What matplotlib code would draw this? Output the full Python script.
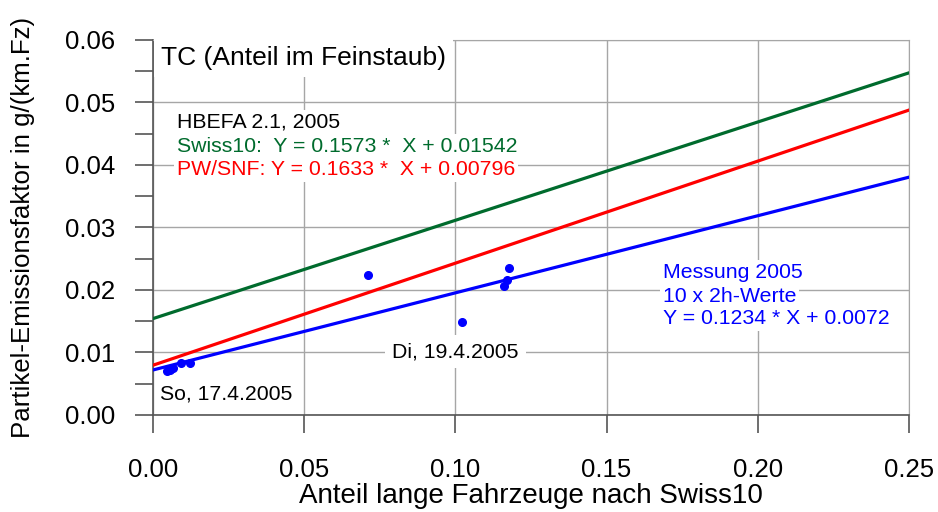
import matplotlib.pyplot as plt
import numpy as np
from matplotlib.ticker import MultipleLocator

plt.rcParams['font.family'] = ['Liberation Sans', 'DejaVu Sans']

# Messwerte 2005 (10 x 2h-Werte)
anteil_lang = [0.0046, 0.0056, 0.0066, 0.0093, 0.0122, 0.0711, 0.1022, 0.1161, 0.1170, 0.1177]
emission = [0.0070, 0.0072, 0.0075, 0.0083, 0.0083, 0.0224, 0.0149, 0.0206, 0.0216, 0.0235]

# Regressionsgeraden: (Steigung, Achsenabschnitt)
swiss10 = (0.1573, 0.01542)
pw_snf = (0.1633, 0.00796)
messung = (0.1234, 0.0072)

green = '#006b2d'
grid_col = '#a6a6a6'

fig = plt.figure(figsize=(9.38, 5.12), dpi=100)
ax = fig.add_axes([0.1631, 0.1895, 0.8060, 0.7324])

x = np.array([0.0, 0.25])
ax.plot(x, swiss10[0] * x + swiss10[1], color=green, lw=2.3, zorder=3)
ax.plot(x, pw_snf[0] * x + pw_snf[1], color='red', lw=2.3, zorder=3)
ax.plot(x, messung[0] * x + messung[1], color='blue', lw=2.3, zorder=3)
ax.plot(anteil_lang, emission, 'o', color='blue', ms=5.5, zorder=4)

ax.set_xlim(0, 0.25)
ax.set_ylim(0, 0.06)
ax.xaxis.set_major_locator(MultipleLocator(0.05))
ax.yaxis.set_major_locator(MultipleLocator(0.01))
ax.yaxis.set_minor_locator(MultipleLocator(0.005))
ax.xaxis.set_major_formatter('{x:.2f}')
ax.yaxis.set_major_formatter('{x:.2f}')
ax.grid(True, color=grid_col, lw=1.0, zorder=0)

for side in ['top', 'right']:
    ax.spines[side].set_color(grid_col)
for side in ['left', 'bottom']:
    ax.spines[side].set_color('#555555')
    ax.spines[side].set_linewidth(1.2)

ax.tick_params(axis='both', which='both', direction='out', length=13,
               width=1.2, color='#555555', labelsize=18.5)
ax.tick_params(axis='y', pad=14)
ax.tick_params(axis='x', pad=18)

ax.set_xlabel('Anteil lange Fahrzeuge nach Swiss10', fontsize=20, labelpad=1)
ax.set_ylabel('Partikel-Emissionsfaktor in g/(km.Fz)', fontsize=18.6, labelpad=22)

white = dict(facecolor='white', edgecolor='none', pad=2)

ax.text(0.0026, 0.0571, 'TC (Anteil im Feinstaub)', fontsize=19,
        va='center', ha='left', bbox=dict(facecolor='white', edgecolor='none', pad=5), zorder=5)

ax.text(0.0079, 0.0468, 'HBEFA 2.1, 2005', fontsize=15.3, va='center', ha='left', bbox=white, zorder=5)
ax.text(0.0079, 0.0430, 'Swiss10:  Y = 0.1573 *  X + 0.01542', fontsize=15.3, color=green,
        va='center', ha='left', bbox=white, zorder=5)
ax.text(0.0079, 0.0393, 'PW/SNF: Y = 0.1633 *  X + 0.00796', fontsize=15.3, color='red',
        va='center', ha='left', bbox=white, zorder=5)

ax.text(0.1686, 0.0228, 'Messung 2005', fontsize=15.3, color='blue', va='center', ha='left',
        bbox=white, zorder=5)
ax.text(0.1686, 0.0190, '10 x 2h-Werte', fontsize=15.3, color='blue', va='center', ha='left',
        bbox=white, zorder=5)
ax.text(0.1686, 0.0154, 'Y = 0.1234 * X + 0.0072', fontsize=15.3, color='blue', va='center', ha='left',
        bbox=white, zorder=5)

ax.text(0.0022, 0.0034, 'So, 17.4.2005', fontsize=15.3, va='center', ha='left', bbox=white, zorder=5)
ax.text(0.1, 0.0101, 'Di, 19.4.2005', fontsize=15.3, va='center', ha='center',
        bbox=dict(facecolor='white', edgecolor='none', pad=5), zorder=5)

fig.savefig('out.png', dpi=100)
